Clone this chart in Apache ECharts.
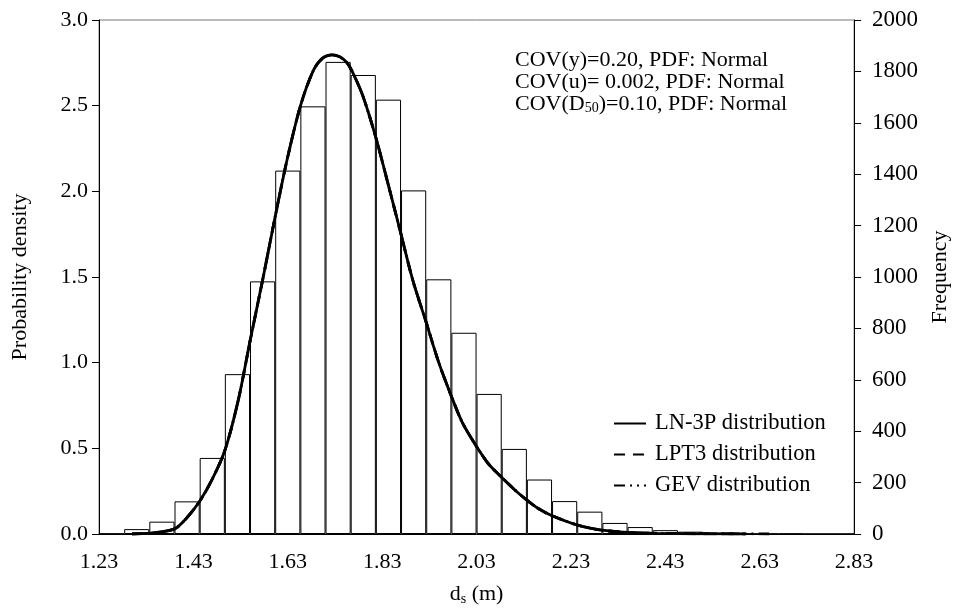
<!DOCTYPE html>
<html>
<head>
<meta charset="utf-8">
<script src="https://cdn.jsdelivr.net/npm/echarts@6/dist/echarts.min.js"></script>
<style>html,body{margin:0;padding:0;background:#fff;}#c{width:959px;height:611px;}</style>
</head>
<body>
<div id="c"></div>
<script>
// Histogram bins (30 equal bins from 1.23 to 2.83) and frequencies (right axis)
const binLabels = ['b1','b2','b3','b4','b5','b6','b7','b8','b9','b10','b11','b12','b13','b14','b15','b16','b17','b18','b19','b20','b21','b22','b23','b24','b25','b26','b27','b28','b29','b30'];
const frequency = [1,19,48,127,296,622,983,1414,1664,1837,1786,1690,1337,991,783,545,331,212,128,87,43,27,15,9,5,2,1,1,0,0];

// Fitted PDF curves: [d_s, density]
const ln3p = [[1.30,0.0],[1.35,0.008],[1.39,0.03],[1.413,0.085],[1.443,0.19],[1.47,0.32],[1.497,0.49],[1.525,0.78],[1.55,1.125],[1.578,1.50],[1.603,1.848],[1.629,2.19],[1.657,2.50],[1.685,2.71],[1.705,2.78],[1.724,2.797],[1.74,2.785],[1.755,2.752],[1.77,2.68],[1.79,2.55],[1.816,2.32],[1.84,2.07],[1.869,1.76],[1.895,1.48],[1.923,1.238],[1.95,1.00],[1.976,0.809],[2.00,0.65],[2.029,0.515],[2.055,0.41],[2.082,0.334],[2.11,0.26],[2.136,0.199],[2.16,0.15],[2.189,0.108],[2.244,0.052],[2.296,0.022],[2.35,0.009],[2.403,0.004],[2.5,0.001],[2.6,0.0]];
const lpt3 = [[1.30,0.0],[1.35,0.008],[1.39,0.03],[1.413,0.085],[1.443,0.19],[1.47,0.32],[1.497,0.49],[1.525,0.78],[1.55,1.125],[1.578,1.50],[1.603,1.848],[1.629,2.19],[1.657,2.50],[1.685,2.71],[1.705,2.78],[1.724,2.797],[1.74,2.785],[1.755,2.752],[1.77,2.68],[1.79,2.55],[1.816,2.32],[1.84,2.07],[1.869,1.76],[1.895,1.48],[1.923,1.238],[1.95,1.00],[1.976,0.809],[2.00,0.65],[2.029,0.515],[2.055,0.41],[2.082,0.334],[2.11,0.26],[2.136,0.199],[2.16,0.15],[2.189,0.108],[2.244,0.052],[2.296,0.022],[2.35,0.009],[2.403,0.004],[2.5,0.001],[2.6,0.0]];
const gev = [[1.30,0.0],[1.35,0.008],[1.39,0.03],[1.413,0.085],[1.443,0.19],[1.47,0.32],[1.497,0.49],[1.525,0.78],[1.55,1.125],[1.578,1.50],[1.603,1.848],[1.629,2.19],[1.657,2.50],[1.685,2.71],[1.705,2.78],[1.724,2.797],[1.74,2.785],[1.755,2.752],[1.77,2.68],[1.79,2.55],[1.816,2.32],[1.84,2.07],[1.869,1.76],[1.895,1.48],[1.923,1.238],[1.95,1.00],[1.976,0.809],[2.00,0.65],[2.029,0.515],[2.055,0.41],[2.082,0.334],[2.11,0.26],[2.136,0.199],[2.16,0.15],[2.189,0.108],[2.244,0.052],[2.296,0.022],[2.35,0.009],[2.403,0.005],[2.5,0.002],[2.6,0.001],[2.65,0.0]];

const xTicks = {min: 1.23, max: 2.83, step: 0.2};
const seriesNames = ['LN-3P distribution','LPT3 distribution','GEV distribution'];
const annotations = ['COV(y)=0.20, PDF: Normal','COV(u)= 0.002, PDF: Normal','COV(D{sub|50})=0.10, PDF: Normal'];

const FONT = '"Liberation Serif", "Times New Roman", serif';
const chart = echarts.init(document.getElementById('c'));
const txt = {fontFamily: FONT, fontSize: 22, color: '#000'};

chart.setOption({
  animation: false,
  backgroundColor: '#fff',
  textStyle: {fontFamily: FONT},
  grid: {left: 99, right: 96, top: 20, bottom: 74, show: true, borderColor: '#777', borderWidth: 1},
  legend: {
    data: seriesNames, orient: 'vertical', left: 608, top: 407, itemWidth: 32, itemHeight: 12, itemGap: 8,
    itemStyle: {opacity: 0},
    textStyle: Object.assign({}, txt, {fontSize: 22.5, padding: [0, 0, 0, 4]})
  },
  graphic: annotations.map((t, i) => ({
    type: 'text', left: 515, top: 49 + i * 22, z: 10,
    style: {text: t, font: '22px ' + FONT, fill: '#000',
      rich: {sub: {fontSize: 14, fontFamily: FONT, padding: [8, 0, 0, 0]}}}
  })),
  xAxis: [
    {type: 'value', min: xTicks.min, max: xTicks.max, interval: xTicks.step,
     name: 'd{sub|s} (m)', nameLocation: 'middle', nameGap: 48,
     nameTextStyle: Object.assign({}, txt, {rich: {sub: {fontSize: 14, fontFamily: FONT, padding: [10, 0, 0, 0]}}}),
     axisLine: {lineStyle: {color: '#000', width: 1}}, axisTick: {show: false},
     axisLabel: Object.assign({}, txt, {margin: 17, formatter: v => v.toFixed(2)}),
     splitLine: {show: false}},
    {type: 'category', data: binLabels, show: false, boundaryGap: true, gridIndex: 0}
  ],
  yAxis: [
    {type: 'value', min: 0, max: 3, interval: 0.5, position: 'left',
     name: 'Probability density', nameLocation: 'middle', nameGap: 68, nameRotate: 90,
     nameTextStyle: txt,
     axisLine: {show: true, lineStyle: {color: '#000', width: 1}},
     axisTick: {show: true, length: 7, lineStyle: {color: '#000'}},
     axisLabel: Object.assign({}, txt, {margin: 11, formatter: v => v.toFixed(1)}),
     splitLine: {show: false}},
    {type: 'value', min: 0, max: 2000, interval: 200, position: 'right',
     name: 'Frequency', nameLocation: 'middle', nameGap: 69, nameRotate: 90,
     nameTextStyle: txt,
     axisLine: {show: true, lineStyle: {color: '#000', width: 1}},
     axisTick: {show: true, length: 7, lineStyle: {color: '#000'}},
     axisLabel: Object.assign({}, txt, {fontSize: 23, margin: 18, formatter: v => String(v)}),
     splitLine: {show: false}}
  ],
  series: [
    {type: 'bar', name: 'Frequency', xAxisIndex: 1, yAxisIndex: 1, data: frequency,
     barWidth: '100%', barGap: '-100%', z: 1,
     itemStyle: {color: '#fff', borderColor: '#000', borderWidth: 1}},
    {type: 'line', name: seriesNames[0], data: ln3p, xAxisIndex: 0, yAxisIndex: 0, smooth: 0.3,
     symbol: 'none', z: 3, lineStyle: {color: '#000', width: 2.8, type: 'solid'}, itemStyle: {color: '#000'}},
    {type: 'line', name: seriesNames[1], data: lpt3, xAxisIndex: 0, yAxisIndex: 0, smooth: 0.3,
     symbol: 'none', z: 4, lineStyle: {color: '#000', width: 2.8, type: [11, 8]}, itemStyle: {color: '#000'}},
    {type: 'line', name: seriesNames[2], data: gev, xAxisIndex: 0, yAxisIndex: 0, smooth: 0.3,
     symbol: 'none', z: 5, lineStyle: {color: '#000', width: 2.8, type: [11, 5, 2, 5, 2, 5]}, itemStyle: {color: '#000'}}
  ]
});
</script>
</body>
</html>
